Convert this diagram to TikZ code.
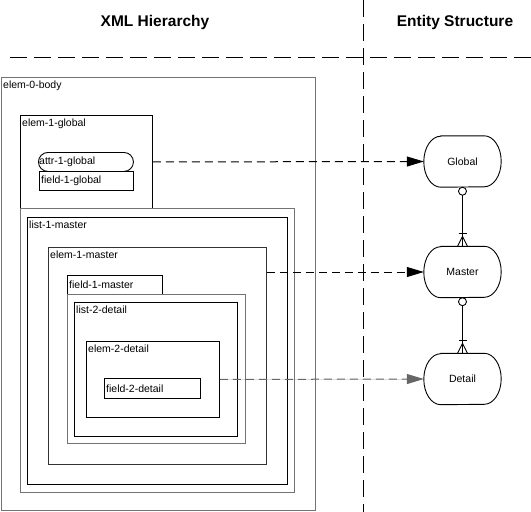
\documentclass[tikz,border=0pt]{standalone}
\usepackage{fontspec}
\setmainfont{Liberation Sans}
\usetikzlibrary{arrows.meta,calc}
\newcommand\drawentity[1]{%
  \draw[line width=0.9pt] ($(#1.north west)+(17pt,0pt)$) -- ($(#1.north east)+(-17pt,0pt)$)
    arc[start angle=90,end angle=-90,x radius=17pt,y radius=25.5pt]
    -- ($(#1.south west)+(17pt,0pt)$)
    arc[start angle=270,end angle=90,x radius=17pt,y radius=25.5pt] -- cycle;}
\begin{document}
\begin{tikzpicture}[x=1pt,y=-1pt,
  box/.style={draw=black, line width=0.9pt, inner sep=0pt, anchor=north west},
  gbox/.style={draw=black!55, line width=1.3pt, inner sep=0pt, anchor=north west},
  lbl/.style={anchor=north west, inner xsep=2pt, inner ysep=4pt, font=\fontsize{10.5}{12}\selectfont},
  ftxt/.style={anchor=west, inner xsep=2pt, inner ysep=0pt, font=\fontsize{10.5}{12}\selectfont},
  entity/.style={minimum width=77pt, minimum height=51pt, inner sep=0pt, font=\fontsize{10.5}{12}\selectfont},
  title/.style={font=\bfseries\fontsize{15.5}{18}\selectfont},
  sep/.style={line width=0.9pt, dash pattern=on 17pt off 7pt},
  map/.style={line width=1pt, dash pattern=on 8pt off 5pt, -{Triangle[length=17pt,width=10pt]}},
  er/.style={line width=0.9pt}
]
\useasboundingbox (0,0) rectangle (531,512);

% titles
\node[title] (t1) at (155,22) {XML Hierarchy};
\node[title] (t2) at (455,22) {Entity Structure};

% separators
\coordinate (hL) at (10,57);
\coordinate (hR) at (531,57);
\coordinate (vT) at (363,0);
\coordinate (vB) at (363,512);
\draw[sep] (hL) -- (hR);
\draw[sep] (vT) -- (vB);

% XML boxes
\node[gbox, minimum width=314pt, minimum height=433pt] (body) at (1,77) {};
\node[lbl] (bodyl) at (body.north west) {elem-0-body};

\node[box, minimum width=132pt, minimum height=93pt] (eg) at (20,115) {};
\node[lbl] (egl) at (eg.north west) {elem-1-global};
\node[box, rounded corners=9.5pt, minimum width=95pt, minimum height=19pt] (attr) at (38,152) {};
\node[ftxt, inner xsep=1pt] (attrl) at (attr.west) {attr-1-global};
\node[box, minimum width=94pt, minimum height=19pt] (fg) at (39,171) {};
\node[ftxt] (fgl) at (fg.west) {field-1-global};

\node[gbox, minimum width=274pt, minimum height=284pt] (l1o) at (20,208) {};
\node[box, minimum width=260pt, minimum height=267pt] (l1) at (27,217) {};
\node[lbl] (l1l) at (l1.north west) {list-1-master};

\node[box, draw=black!80, minimum width=218pt, minimum height=217pt] (em) at (48,247) {};
\node[lbl] (eml) at (em.north west) {elem-1-master};
\node[box, minimum width=95pt, minimum height=19pt] (fm) at (67,275) {};
\node[ftxt] (fml) at (fm.west) {field-1-master};

\node[gbox, minimum width=178pt, minimum height=149pt] (l2o) at (67,294) {};
\node[box, minimum width=163pt, minimum height=134pt] (l2) at (74,302) {};
\node[lbl] (l2l) at (l2.north west) {list-2-detail};

\node[box, minimum width=133pt, minimum height=76pt] (ed) at (86,341) {};
\node[lbl] (edl) at (ed.north west) {elem-2-detail};
\node[box, minimum width=96pt, minimum height=20pt] (fd) at (104,378) {};
\node[ftxt] (fdl) at (fd.west) {field-2-detail};

% entities
\node[entity] (Global) at (462.5,161.5) {Global};
\node[entity] (Master) at (462.5,272) {Master};
\node[entity] (Detail) at (462.5,379) {Detail};
\drawentity{Global}
\drawentity{Master}
\drawentity{Detail}

% mapping arrows
\draw[map] (attr.east -| eg.east) -- (Global.west);
\draw[map] (em.east |- Master.west) -- (Master.west);
\draw[map, draw=black!60, fill=black] (ed.east) -- (Detail.west);

% ER relationships
\draw[er] ($(Global.south)+(0,8)$) -- (Master.north);
\draw[er] ($(Global.south)+(0,4)$) circle[radius=4];
\draw[er] ($(Master.north)+(-4,-13)$) -- ++(8,0);
\draw[er] ($(Master.north)+(-5,0)$) -- ($(Master.north)+(0,-10)$) -- ($(Master.north)+(5,0)$);

\draw[er] ($(Master.south)+(0,8)$) -- (Detail.north);
\draw[er] ($(Master.south)+(0,4)$) circle[radius=4];
\draw[er] ($(Detail.north)+(-4,-13)$) -- ++(8,0);
\draw[er] ($(Detail.north)+(-5,0)$) -- ($(Detail.north)+(0,-10)$) -- ($(Detail.north)+(5,0)$);
\end{tikzpicture}
\end{document}
